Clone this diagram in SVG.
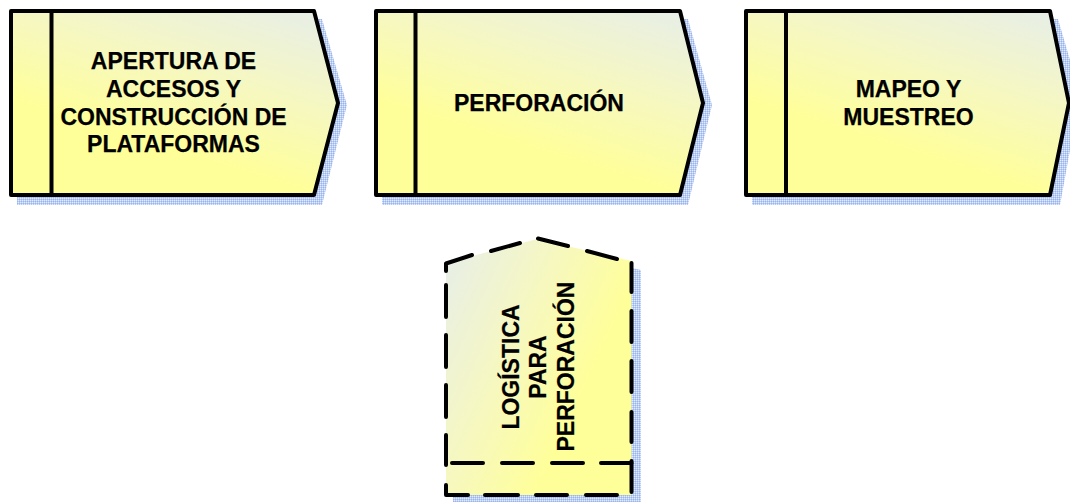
<svg xmlns="http://www.w3.org/2000/svg" width="1070" height="502" viewBox="0 0 1070 502">
<style>
.shadow{fill:url(#hatch);stroke:none}
.body{fill:url(#fillH);stroke:#000;stroke-width:4;stroke-linejoin:round}
.bodyV{fill:url(#fillV);stroke:none}
.line{fill:none;stroke:#000;stroke-width:4}
.dash{fill:none;stroke:#000;stroke-width:4;stroke-linecap:round;stroke-linejoin:round}
text{font-family:"Liberation Sans",Arial,sans-serif;font-weight:700;font-size:23px;fill:#000;stroke:#000;stroke-width:0.25;text-anchor:middle}
</style>
<defs>
<pattern id="hatch" width="2" height="2" patternUnits="userSpaceOnUse"><rect width="2" height="2" fill="#b9ccf4"/><rect width="1" height="1" fill="#e4ecfc"/><rect x="1" y="1" width="1" height="1" fill="#9ab6f0"/></pattern>
<linearGradient id="fillH" x1="1" y1="0" x2="0.45" y2="1"><stop offset="0" stop-color="#e6eeea"/><stop offset="0.4" stop-color="#f5f7c4"/><stop offset="0.8" stop-color="#ffff99"/></linearGradient>
<linearGradient id="fillV" x1="0" y1="0" x2="1" y2="0.65"><stop offset="0" stop-color="#e6eeea"/><stop offset="0.4" stop-color="#f5f7c4"/><stop offset="0.8" stop-color="#ffff99"/></linearGradient>
</defs>
<g id="connectors"></g>
<g id="node-apertura">
<path class="shadow" d="M19 19H322L347 105L322 205H17V190H19Z"/>
<path class="body" d="M11 11H314L338 103L314 195H11Z"/>
<path class="line" d="M51.500 9V197"/>
<text x="173.500" y="69">APERTURA DE</text>
<text x="173.500" y="97">ACCESOS Y</text>
<text x="173.500" y="125">CONSTRUCCIÓN DE</text>
<text x="173.500" y="152">PLATAFORMAS</text>
</g>
<g id="node-perforacion">
<path class="shadow" d="M384 19H688L712 105L688 205H382V190H384Z"/>
<path class="body" d="M376 11H680L703 103L680 195H376Z"/>
<path class="line" d="M415.500 9V197"/>
<text x="539" y="111">PERFORACIÓN</text>
</g>
<g id="node-mapeo">
<path class="shadow" d="M754 19H1058L1070 60V150L1060 205H752V190H754Z"/>
<path class="body" d="M746 11H1050L1069 103L1050 195H746Z"/>
<path class="line" d="M786 9V197"/>
<text x="908.500" y="97">MAPEO Y</text>
<text x="908.500" y="125">MUESTREO</text>
</g>
<g id="node-logistica">
<path class="shadow" d="M453 270L545 248L641 270V502H453Z"/>
<path class="bodyV" d="M446 263L537 239L631.500 261V495H446Z"/>
<path class="dash" d="M446 271V263.500L472 255M491 251L520 243M538 238.500L568 246M587 251L617 259M631.500 263V292M631.500 311V342M631.500 361V392M631.500 412V442M631.500 461V492M617 495H586M567 495H536M518 495H485M468 495H446V485M446 465V435M446 417V385M446 367V335M446 317V285"/>
<path class="dash" d="M452 463H483M502 463H533M552 463H583M601 463H631.500"/>
<text transform="translate(519 367) rotate(-90)">LOGÍSTICA</text>
<text transform="translate(546 367) rotate(-90)">PARA</text>
<text transform="translate(574 366.500) rotate(-90)">PERFORACIÓN</text>
</g>
</svg>
